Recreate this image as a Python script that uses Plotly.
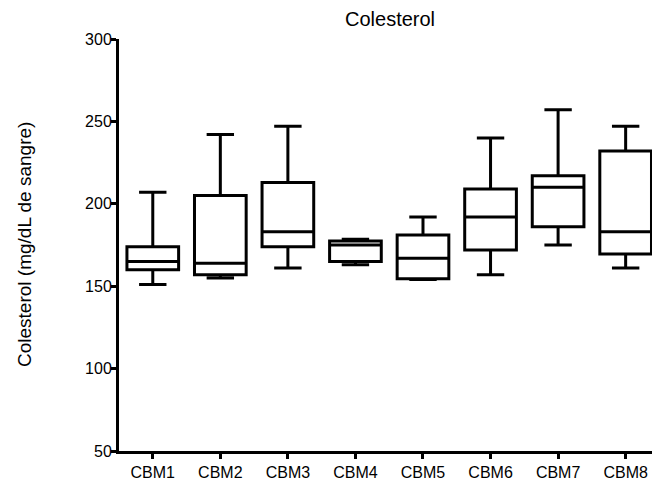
import plotly.graph_objects as go

# Colesterol por grupo: mínimo, Q1, mediana, Q3, máximo (mg/dL)
groups = ["CBM1", "CBM2", "CBM3", "CBM4", "CBM5", "CBM6", "CBM7", "CBM8"]
minimum = [151, 155, 161, 163, 154, 157, 175, 161]
q1 = [160, 157, 174, 165, 154.5, 172, 186, 169.5]
median = [165, 164, 183, 175, 167, 192, 210, 183]
q3 = [174, 205, 213, 177.5, 181, 209, 217, 232]
maximum = [207, 242, 247, 178.5, 192, 240, 257, 247]

y_ticks = [50, 100, 150, 200, 250, 300]

W, H = 652, 483
L, R, T, B = 119, 0, 39, 32

fig = go.Figure(
    go.Box(
        x=groups,
        q1=q1,
        median=median,
        q3=q3,
        lowerfence=minimum,
        upperfence=maximum,
        boxpoints=False,
        width=0.765,
        whiskerwidth=0.53,
        line=dict(color="black", width=3),
        fillcolor="white",
        hoverinfo="y",
    )
)

font_family = "Liberation Sans, Arial, sans-serif"
plot_w = W - L - R

fig.update_layout(
    width=W,
    height=H,
    margin=dict(l=L, r=R, t=T, b=B, pad=0),
    paper_bgcolor="white",
    plot_bgcolor="white",
    showlegend=False,
    font=dict(family=font_family, color="black", size=16),
    xaxis=dict(
        type="category",
        range=[-0.5, 7.39],
        showline=True,
        linecolor="black",
        linewidth=3,
        ticks="outside",
        ticklen=5,
        tickwidth=3,
        tickcolor="black",
        showgrid=False,
        zeroline=False,
        tickfont=dict(size=16),
        fixedrange=True,
    ),
    yaxis=dict(
        range=[50, 300],
        tickvals=y_ticks,
        showline=True,
        linecolor="black",
        linewidth=3,
        ticks="outside",
        ticklen=5,
        tickwidth=3,
        tickcolor="black",
        ticklabelstandoff=-4,
        showgrid=False,
        zeroline=False,
        tickfont=dict(size=16),
        fixedrange=True,
    ),
    annotations=[
        dict(
            text="Colesterol",
            xref="paper",
            yref="paper",
            x=(389.5 - L) / plot_w,
            y=1 + (T - 19) / (H - T - B),
            xanchor="center",
            yanchor="middle",
            showarrow=False,
            font=dict(size=20, family=font_family),
        ),
        dict(
            text="Colesterol (mg/dL de sangre)",
            xref="paper",
            yref="paper",
            x=(24 - L) / plot_w,
            y=0.5,
            xanchor="center",
            yanchor="middle",
            textangle=-90,
            showarrow=False,
            font=dict(size=19, family=font_family),
        ),
    ],
)

fig.write_html("out.html")
